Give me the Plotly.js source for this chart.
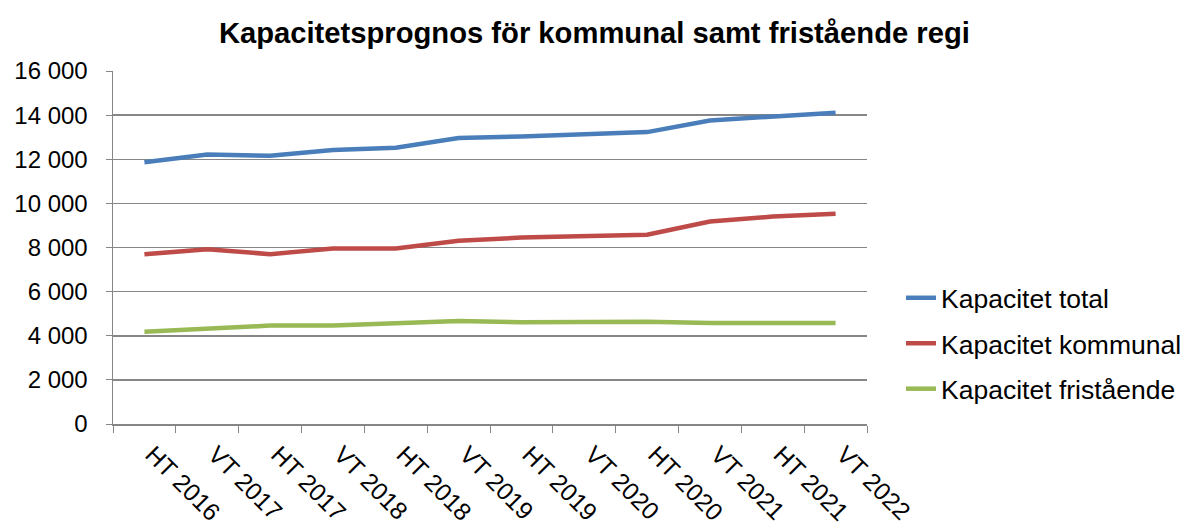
<!DOCTYPE html>
<html>
<head>
<meta charset="utf-8">
<script src="https://cdn.plot.ly/plotly-3.0.1.min.js"></script>
<style>html,body{margin:0;padding:0;background:#fff;}#chart{width:1184px;height:524px;}</style>
</head>
<body>
<div id="chart"></div>
<script>
const categories = ["HT 2016","VT 2017","HT 2017","VT 2018","HT 2018","VT 2019","HT 2019","VT 2020","HT 2020","VT 2021","HT 2021","VT 2022"];
const kapacitetTotal = [11860, 12220, 12160, 12420, 12520, 12960, 13030, 13120, 13230, 13760, 13960, 14110];
const kapacitetKommunal = [7690, 7920, 7700, 7950, 7950, 8310, 8450, 8510, 8580, 9180, 9400, 9530];
const kapacitetFristaende = [4180, 4300, 4460, 4460, 4570, 4670, 4610, 4610, 4640, 4580, 4580, 4580];
const seriesNames = ["Kapacitet total", "Kapacitet kommunal", "Kapacitet fristående"];
const colors = ["#4A7EBB", "#BE4B48", "#98B954"];
const values = [kapacitetTotal, kapacitetKommunal, kapacitetFristaende];

const font = "Liberation Sans, Arial, sans-serif";
const traces = values.map((v, i) => ({
  type: "scatter", mode: "lines", x: categories, y: v, name: seriesNames[i],
  legendgroup: "g" + i,
  line: {color: colors[i], width: 4.5}
}));

const layout = {
  width: 1184, height: 524,
  paper_bgcolor: "#fff", plot_bgcolor: "#fff",
  separators: ", ",
  margin: {l: 113, r: 317, t: 71, b: 100},
  title: {text: "<b>Kapacitetsprognos för kommunal samt fristående regi</b>", x: 0.502, xanchor: "center", y: 0.938, yanchor: "middle", font: {family: font, size: 29.2, color: "#000"}},
  xaxis: {
    type: "category", tickangle: 45, tickson: "boundaries", ticks: "outside", ticklen: 7, tickcolor: "#868686",
    showline: true, linecolor: "#868686", linewidth: 1.5, showgrid: false, range: [-0.5, 11.5],
    ticklabelstandoff: 5, ticklabelshift: 8,
    tickfont: {family: font, size: 24.5, color: "#000"}
  },
  yaxis: {
    range: [0, 16000], dtick: 2000, tickformat: ",d", ticks: "outside", ticklen: 6, tickcolor: "#868686",
    showline: true, linecolor: "#868686", linewidth: 1.5, gridcolor: "#868686", gridwidth: 1.5, zeroline: false,
    ticklabelstandoff: 13,
    tickfont: {family: font, size: 24, color: "#000"}
  },
  showlegend: true,
  legend: {xref: "container", yref: "container", x: 0.761, xanchor: "left", y: 0.477, yanchor: "top",
    traceorder: "grouped", tracegroupgap: 8,
    font: {family: font, size: 26.5, color: "#000"}, bgcolor: "rgba(0,0,0,0)"}
};

Plotly.newPlot("chart", traces, layout, {displayModeBar: false, staticPlot: true});
</script>
</body>
</html>
